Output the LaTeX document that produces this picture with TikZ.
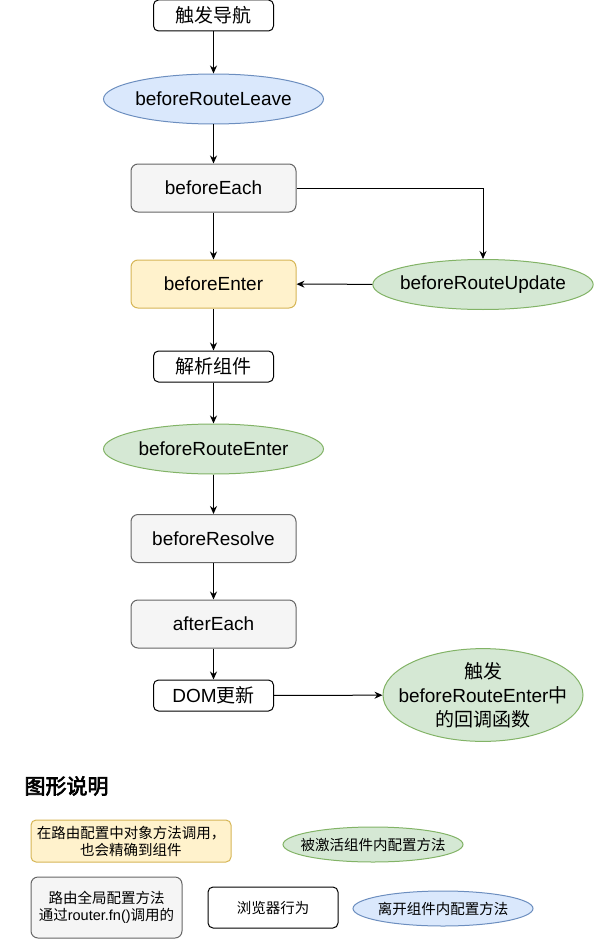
\documentclass[tikz,border=0pt]{standalone}
\usepackage{fontspec}
\setmainfont{Liberation Sans}
\newfontfamily\cjk{Noto Sans CJK SC}
\newfontfamily\cjkbold[FakeBold=3]{Noto Sans CJK SC}
\usetikzlibrary{shapes.geometric,arrows.meta}

\definecolor{blueFill}{HTML}{DAE8FC}
\definecolor{blueLine}{HTML}{6C8EBF}
\definecolor{grayFill}{HTML}{F5F5F5}
\definecolor{grayLine}{HTML}{666666}
\definecolor{yellowFill}{HTML}{FFF2CC}
\definecolor{yellowLine}{HTML}{D6B656}
\definecolor{greenFill}{HTML}{D5E8D4}
\definecolor{greenLine}{HTML}{82B366}

\begin{document}
\begin{tikzpicture}[
        x=1pt, y=-1pt,
        every node/.style={line width=1pt, inner sep=0pt, align=center},
        big/.style={font=\fontsize{19}{24}\selectfont},
        small/.style={font=\fontsize{14.5}{17}\selectfont},
        browser/.style={big, draw=black, rounded corners=5pt, minimum width=120pt, minimum height=31pt},
        global/.style={big, draw=grayLine, fill=grayFill, rounded corners=7pt, minimum width=165pt, minimum height=48pt},
        route/.style={big, draw=yellowLine, fill=yellowFill, rounded corners=7pt, minimum width=165pt, minimum height=48pt},
        leave/.style={big, ellipse, draw=blueLine, fill=blueFill, inner xsep=-5pt, minimum width=220pt, minimum height=50pt},
        active/.style={big, ellipse, draw=greenLine, fill=greenFill, inner xsep=-5pt, minimum width=220pt, minimum height=50pt},
        arrow/.style={-{Stealth[length=8pt, width=7pt]}, line width=1pt}
    ]
    \useasboundingbox (0,0) rectangle (594,939);
    % Nodes
    \node[browser] (trigger) at (213.5, 15.5) {\cjk 触发导航};
    \node[leave] (rLeave) at (213.5, 99) {beforeRouteLeave};
    \node[global] (each) at (213.5, 188) {beforeEach};
    \node[route] (enter) at (213.5, 284) {beforeEnter};
    \node[active] (update) at (483, 284.5) {beforeRouteUpdate};
    \node[browser] (parse) at (213.5, 366.5) {\cjk 解析组件};
    \node[active] (rEnter) at (213.5, 449) {beforeRouteEnter};
    \node[global] (resolve) at (213.5, 538.5) {beforeResolve};
    \node[global] (after) at (213.5, 624) {afterEach};
    \node[browser] (dom) at (213.5, 695.5) {DOM{\cjk 更新}};
    \node[active, inner xsep=-14pt, minimum width=200pt, minimum height=90pt] (callback) at (483, 695)
        {{\cjk 触发}\\beforeRouteEnter{\cjk 中}\\{\cjk 的回调函数}};
    % Legend
    \node[font=\cjkbold\fontsize{21}{24}\selectfont] (title) at (66.5, 786) {图形说明};
    \node[small, draw=yellowLine, fill=yellowFill, rounded corners=5pt, minimum width=200pt, minimum height=42pt] (legRoute) at (131, 841)
        {\cjk 在路由配置中对象方法调用，\\\cjk 也会精确到组件};
    \node[small, ellipse, draw=greenLine, fill=greenFill, inner xsep=-9pt, minimum width=180pt, minimum height=35pt] (legActive) at (373, 844.5)
        {\cjk 被激活组件内配置方法};
    \node[small, draw=grayLine, fill=grayFill, rounded corners=7pt, minimum width=151pt, minimum height=61pt] (legGlobal) at (106.5, 907.5)
        {\cjk 路由全局配置方法\\{\cjk 通过}router.fn(){\cjk 调用的}};
    \node[small, draw=black, rounded corners=5pt, minimum width=130pt, minimum height=41pt] (legBrowser) at (273, 907.5)
        {\cjk 浏览器行为};
    \node[small, ellipse, draw=blueLine, fill=blueFill, inner xsep=-9pt, minimum width=180pt, minimum height=35pt] (legLeave) at (443, 908.5)
        {\cjk 离开组件内配置方法};
    % Edges
    \draw[arrow] (trigger) -- (rLeave);
    \draw[arrow] (rLeave) -- (each);
    \draw[arrow] (each) -- (enter);
    \draw[arrow] (each.east) -| (update.north);
    \draw[arrow] (update) -- (enter);
    \draw[arrow] (enter) -- (parse);
    \draw[arrow] (parse) -- (rEnter);
    \draw[arrow] (rEnter) -- (resolve);
    \draw[arrow] (resolve) -- (after);
    \draw[arrow] (after) -- (dom);
    \draw[arrow] (dom) -- (callback);
\end{tikzpicture}
\end{document}
